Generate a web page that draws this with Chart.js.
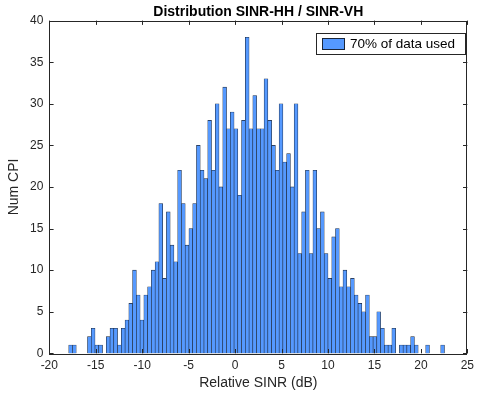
<!DOCTYPE html>
<html>
<head>
<meta charset="utf-8">
<script src="https://cdn.jsdelivr.net/npm/chart.js@4.4.0/dist/chart.umd.min.js"></script>
<style>
  html, body { margin: 0; padding: 0; background: #ffffff; }
  #wrap { width: 479px; height: 398px; }
</style>
</head>
<body>
<div id="wrap"><canvas id="myChart" width="479" height="398"></canvas></div>
<script>
// histogram bins (dB): first edge and bin width, 100 bins
var binStart = -17.91
var binWidth = 0.4045

// counts per bin
var numCPI = [
    1, 1, 0, 0, 0, 2, 3, 1, 1, 0,
    2, 3, 3, 1, 3, 4, 6, 10, 7, 4,
    7, 8, 10, 11, 18, 9, 17, 13, 11, 22,
    18, 13, 15, 18, 25, 22, 21, 28, 22, 30,
    20, 32, 27, 29, 27, 19, 28, 38, 27, 31,
    27, 27, 33, 28, 25, 22, 30, 23, 24, 20,
    30, 12, 17, 22, 12, 22, 15, 17, 12, 9,
    14, 15, 8, 10, 8, 9, 7, 6, 5, 7,
    2, 2, 5, 3, 1, 1, 3, 0, 1, 1,
    1, 2, 1, 0, 0, 1, 0, 0, 0, 1
]

var xTicks = [-20, -15, -10, -5, 0, 5, 10, 15, 20, 25]
var yTicks = [0, 5, 10, 15, 20, 25, 30, 35, 40]
var legendLabel = '70% of data used'

var barFill = '#5599ff'
var barEdge = '#1b2638'
var axisColor = '#262626'

Chart.defaults.font.family = 'Arial, "Liberation Sans", Helvetica, sans-serif'

// bin centres -> points for the linear x axis
var binCenters = numCPI.map(function (v, i) { return binStart + binWidth * (i + 0.5) })
var pontos = binCenters.map(function (c, i) { return { x: c, y: numCPI[i] } })

// box, inward ticks and legend like the MATLAB figure
var caixaMatlab = {
    id: 'caixaMatlab',
    afterDraw: function (chart) {
        var ctx = chart.ctx
        var a = chart.chartArea
        var sx = chart.scales.x
        var sy = chart.scales.y
        var tl = 4.3

        ctx.save()
        ctx.strokeStyle = axisColor
        ctx.lineWidth = 1
        ctx.strokeRect(Math.round(a.left) + 0.5, Math.round(a.top) + 0.5,
            Math.round(a.right - a.left) - 1, Math.round(a.bottom - a.top))

        ctx.beginPath()
        xTicks.forEach(function (t) {
            var px = Math.round(sx.getPixelForValue(t)) + 0.5
            ctx.moveTo(px, a.bottom)
            ctx.lineTo(px, a.bottom - tl)
            ctx.moveTo(px, a.top)
            ctx.lineTo(px, a.top + tl)
        })
        yTicks.forEach(function (t) {
            var py = Math.round(sy.getPixelForValue(t)) + 0.5
            ctx.moveTo(a.left, py)
            ctx.lineTo(a.left + tl, py)
            ctx.moveTo(a.right, py)
            ctx.lineTo(a.right - tl, py)
        })
        ctx.stroke()

        // legend
        var lx = 316, ly = 33, lw = 149, lh = 21
        ctx.fillStyle = '#ffffff'
        ctx.fillRect(lx, ly, lw, lh)
        ctx.strokeStyle = axisColor
        ctx.strokeRect(lx + 0.5, ly + 0.5, lw, lh)
        ctx.fillStyle = barEdge
        ctx.fillRect(lx + 6, ly + 5, 23, 12)
        ctx.fillStyle = barFill
        ctx.fillRect(lx + 7, ly + 6, 21, 10)
        ctx.fillStyle = '#000000'
        ctx.font = '13.5px Arial, "Liberation Sans", sans-serif'
        ctx.textBaseline = 'middle'
        ctx.fillText(legendLabel, lx + 34, ly + 11.5)
        ctx.restore()
    }
}

var ctx = document.getElementById('myChart')

var grafico = new Chart(ctx, {
    type: 'bar',
    data: {
        datasets: [{
            label: legendLabel,
            data: pontos,
            backgroundColor: barFill,
            borderColor: barEdge,
            borderWidth: 0.6,
            borderSkipped: false,
            barPercentage: 1,
            categoryPercentage: 1
        }]
    },
    options: {
        responsive: false,
        animation: false,
        devicePixelRatio: 1,
        layout: { padding: { left: 0, right: 5.7, top: 0, bottom: 0 } },
        plugins: {
            legend: { display: false },
            tooltip: { enabled: false },
            title: {
                display: true,
                text: 'Distribution SINR-HH / SINR-VH',
                color: '#000000',
                fullSize: false,
                font: { size: 14, weight: 'bold' },
                padding: { top: 3.8, bottom: 0 }
            }
        },
        scales: {
            x: {
                type: 'linear',
                min: -20,
                max: 25,
                offset: false,
                grid: { display: false, drawTicks: false },
                border: { display: false },
                ticks: { stepSize: 5, color: axisColor, font: { size: 12 }, padding: 5, maxRotation: 0 },
                title: { display: true, text: 'Relative SINR (dB)', color: axisColor, font: { size: 14 }, padding: { top: 0, bottom: 6.8 } },
                afterFit: function (scale) { scale.height = 44.7 }
            },
            y: {
                min: 0,
                max: 40,
                grid: { display: false, drawTicks: false },
                border: { display: false },
                ticks: { stepSize: 5, color: axisColor, font: { size: 12 }, padding: 6 },
                title: { display: true, text: 'Num CPI', color: axisColor, font: { size: 14 }, padding: { top: 5.8, bottom: 0 } },
                afterFit: function (scale) { scale.width = 49.3 }
            }
        }
    },
    plugins: [caixaMatlab]
});
</script>
</body>
</html>
